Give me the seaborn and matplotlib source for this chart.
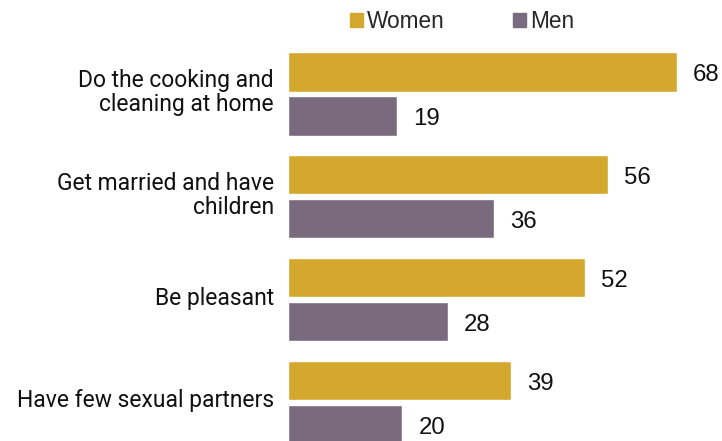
import matplotlib
matplotlib.use("Agg")
import matplotlib.pyplot as plt
import matplotlib.transforms as mtransforms
import seaborn as sns
import pandas as pd

categories = [
    "Do the cooking and\ncleaning at home",
    "Get married and have\nchildren",
    "Be pleasant",
    "Have few sexual partners",
]
women = [68, 56, 52, 39]
men = [19, 36, 28, 20]
groups = ["Women", "Men"]
palette = {"Women": "#D4A72F", "Men": "#7A6A7E"}

df = pd.DataFrame({
    "category": categories * 2,
    "group": ["Women"] * len(categories) + ["Men"] * len(categories),
    "value": women + men,
})

sns.set_theme(style="white")
plt.rcParams["font.family"] = ["Liberation Sans", "DejaVu Sans"]

fig = plt.figure(figsize=(7.22, 4.41), dpi=100)
ax = fig.add_axes([288 / 722, 0, 434 / 722, 1])

sns.barplot(
    data=df, y="category", x="value", hue="group",
    order=categories, hue_order=groups, palette=palette,
    orient="h", width=0.857, gap=0.11, saturation=1,
    legend=False, ax=ax,
)

ax.set_xlim(0, 434 / 5.72)
ax.set_ylim(3.375, -0.914)
for s in ax.spines.values():
    s.set_visible(False)
ax.set_xlabel("")
ax.set_ylabel("")
ax.set_xticks([])
ax.tick_params(axis="y", length=0, pad=10)
ax.set_yticks(range(len(categories)))
ax.set_yticklabels(categories, fontsize=16.5, family=["Roboto", "DejaVu Sans"],
                   color="#111111", linespacing=1.05)
lift = mtransforms.ScaledTranslation(0, 4 / 100, fig.dpi_scale_trans)
for lbl in ax.get_yticklabels():
    lbl.set_transform(lbl.get_transform() + lift)

# value labels, nudged so the digits sit on the bar's midline
for cont in ax.containers:
    texts = ax.bar_label(cont, fmt="%d", padding=11.5, fontsize=17.3,
                         color="#111111")
    for t in texts:
        t.xyann = (t.xyann[0], -2.3)

handles = [plt.Rectangle((0, 0), 1, 1, color=palette[g]) for g in groups]
fig.legend(handles, groups, loc="upper left", bbox_to_anchor=(336 / 722, 1.008),
           ncol=2, frameon=False, fontsize=16.3, handlelength=0.58,
           handleheight=0.58, handletextpad=0.2, columnspacing=3.0,
           borderaxespad=0.2)

fig.savefig("out.png", dpi=100)
